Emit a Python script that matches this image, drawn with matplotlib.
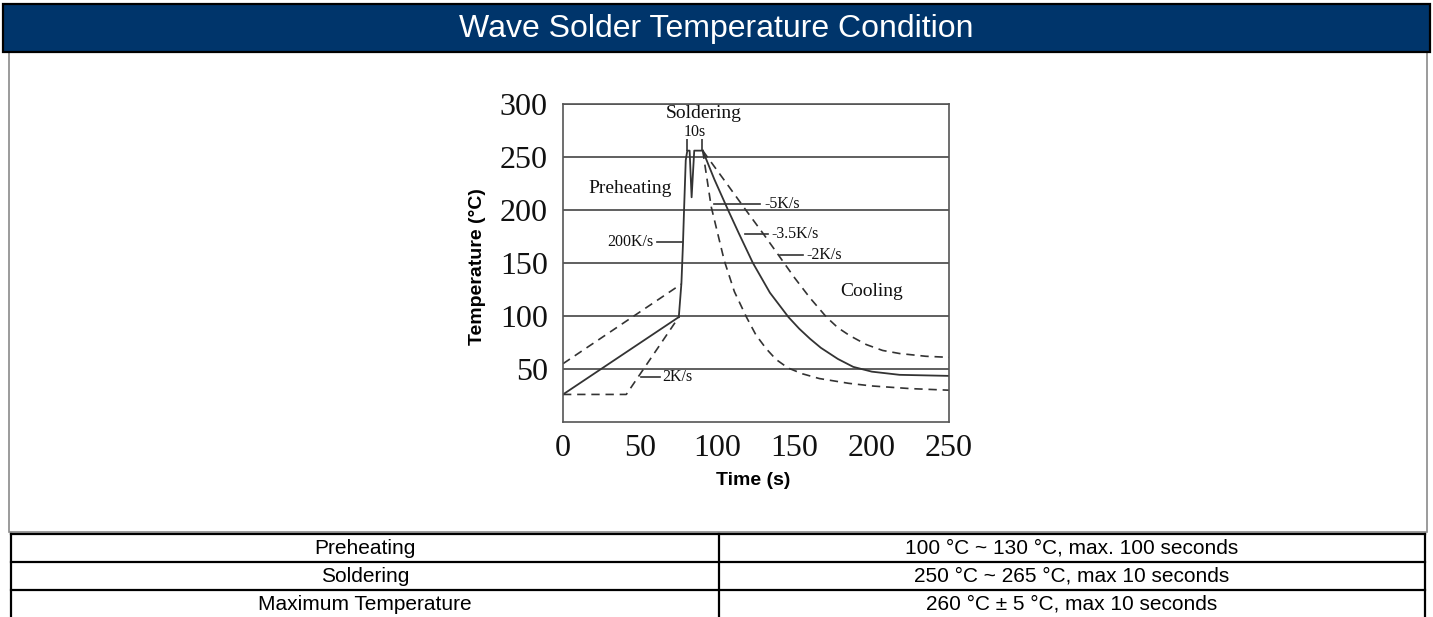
import matplotlib
matplotlib.use("Agg")
import matplotlib.pyplot as plt
from matplotlib.patches import Rectangle

# DATA
title = "Wave Solder Temperature Condition"

# preheating ramps (time s, temperature C)
pre_solid_t = [0, 75]
pre_solid_T = [26, 99]
pre_upper_t = [0, 76.5]
pre_upper_T = [55, 130]
pre_lower_t = [0, 41, 75]
pre_lower_T = [26, 26, 99]

# steep rise + solder wave (double peak)
rise_t = [75, 76.7, 77.7, 78.4, 79.5, 80.5, 82, 83.3, 85, 90.5]
rise_T = [99, 131, 168, 200, 247, 256, 256, 212, 256, 256]

# cooling curves
cool_fast_t = [90.5, 96, 104.5, 111, 118.8, 125, 131.7, 138, 145.7, 155, 166, 185, 200, 225, 250]
cool_fast_T = [256, 203, 152, 123, 99, 82, 69, 59, 51, 45.5, 41, 36.5, 34, 31.5, 30]
cool_mid_t = [90.5, 98, 106.9, 114.2, 123, 134, 146, 153, 160, 167, 178, 188, 200, 218, 250]
cool_mid_T = [256, 229, 200, 177, 150, 122, 99, 88, 78.5, 70, 59.5, 52, 47.5, 44.5, 43.5]
cool_slow_t = [90.5, 105, 118.4, 130, 139.3, 150, 160, 170.6, 178, 185.7, 196.5, 207, 218, 235, 250]
cool_slow_T = [256, 227, 200, 177, 158, 136, 117, 99, 89, 81.5, 73, 67.5, 64.6, 62, 61]

ytick_vals = [50, 100, 150, 200, 250, 300]
xtick_vals = [0, 50, 100, 150, 200, 250]

table_labels = ["Preheating", "Soldering", "Maximum Temperature"]
table_values = ["100 \u00b0C ~ 130 \u00b0C, max. 100 seconds",
                "250 \u00b0C ~ 265 \u00b0C, max 10 seconds",
                "260 \u00b0C \u00b1 5 \u00b0C, max 10 seconds"]

# annotations: text, x, y, ha
region_labels = [("Soldering", 91.3, 291, "center"),
                 ("Preheating", 43.2, 220, "center"),
                 ("Cooling", 199.7, 123, "center")]
rate_labels = [("10s", 85.3, 274, "center"),
               ("200K/s", 58.5, 170, "right"),
               ("-5K/s", 130.5, 206, "left"),
               ("-3.5K/s", 135.0, 177, "left"),
               ("-2K/s", 157.5, 158, "left"),
               ("2K/s", 64.5, 42.5, "left")]
leaders = [(170, 61, 77.3), (206, 97.6, 127.4), (177, 117.7, 132.8),
           (158, 140.3, 155.4), (42.5, 50.8, 62.6)]
bracket_t = [80, 90]

W, H = 1433, 617
fig = plt.figure(figsize=(W / 100, H / 100), dpi=100)

# background layer in pixel coordinates
bg = fig.add_axes([0, 0, 1, 1])
bg.set_xlim(0, W)
bg.set_ylim(H, 0)
bg.axis("off")
bg.add_patch(Rectangle((9, 52), 1418, 480, fill=False, edgecolor="#8a8a8a", lw=1.2))
bg.add_patch(Rectangle((3, 4), 1427, 48, facecolor="#00356b", edgecolor="black", lw=1.6))
bg.text(716, 29, title, color="white", fontsize=23, family="Liberation Sans",
        ha="center", va="center")

# table
rows_y = [534, 562, 590, 618]
for y in rows_y[:-1]:
    bg.plot([11, 1425], [y, y], color="black", lw=1.6)
for x in [11, 719, 1425]:
    bg.plot([x, x], [534, 617], color="black", lw=1.6)
for i, (lab, val) in enumerate(zip(table_labels, table_values)):
    yc = (rows_y[i] + rows_y[i + 1]) / 2 + 0.5
    bg.text(365, yc, lab, fontsize=15, family="Liberation Sans", ha="center", va="center")
    bg.text(1072, yc, val, fontsize=15, family="Liberation Sans", ha="center", va="center")

# main chart
ax = fig.add_axes([563 / W, 1 - 422 / H, (949 - 563) / W, (422 - 104) / H])
ax.set_zorder(2)
lc = "#333333"
dash = (0, (5, 3.5))
ax.plot(pre_solid_t, pre_solid_T, color=lc, lw=1.3)
ax.plot(pre_upper_t, pre_upper_T, color=lc, lw=1.2, ls=dash)
ax.plot(pre_lower_t, pre_lower_T, color=lc, lw=1.2, ls=dash)
ax.plot(rise_t, rise_T, color=lc, lw=1.3)
ax.plot(cool_fast_t, cool_fast_T, color=lc, lw=1.2, ls=dash)
ax.plot(cool_mid_t, cool_mid_T, color=lc, lw=1.3)
ax.plot(cool_slow_t, cool_slow_T, color=lc, lw=1.2, ls=dash)

ax.vlines(bracket_t, 256, 267, color=lc, lw=1.2)
for y, x0, x1 in leaders:
    ax.plot([x0, x1], [y, y], color=lc, lw=1.2)

for txt, x, y, ha in region_labels:
    ax.text(x, y, txt, fontsize=14, family="Liberation Serif", ha=ha, va="center", color="#111111")
for txt, x, y, ha in rate_labels:
    ax.text(x, y, txt, fontsize=11.5, family="Liberation Serif", ha=ha, va="center", color="#111111")

ax.set_xlim(0, 250)
ax.set_ylim(0, 300)
ax.set_xticks(xtick_vals)
ax.set_yticks(ytick_vals)
ax.tick_params(length=0, labelsize=23, pad=9)
ax.tick_params(axis="y", pad=11)
for lab in ax.get_xticklabels() + ax.get_yticklabels():
    lab.set_family("Liberation Serif")
    lab.set_color("#111111")
ax.yaxis.grid(True, color="#444444", lw=1.2)
ax.set_axisbelow(True)
for s in ax.spines.values():
    s.set_color("#555555")
    s.set_linewidth(1.2)

ax.set_ylabel("Temperature (\u00b0C)", fontsize=14, family="Liberation Sans", fontweight="bold")
ax.set_xlabel("Time (s)", fontsize=14, family="Liberation Sans", fontweight="bold")
ax.yaxis.set_label_coords(-0.20, 0.49)
ax.xaxis.set_label_coords(0.494, -0.156)

fig.savefig("out.png", dpi=100)
